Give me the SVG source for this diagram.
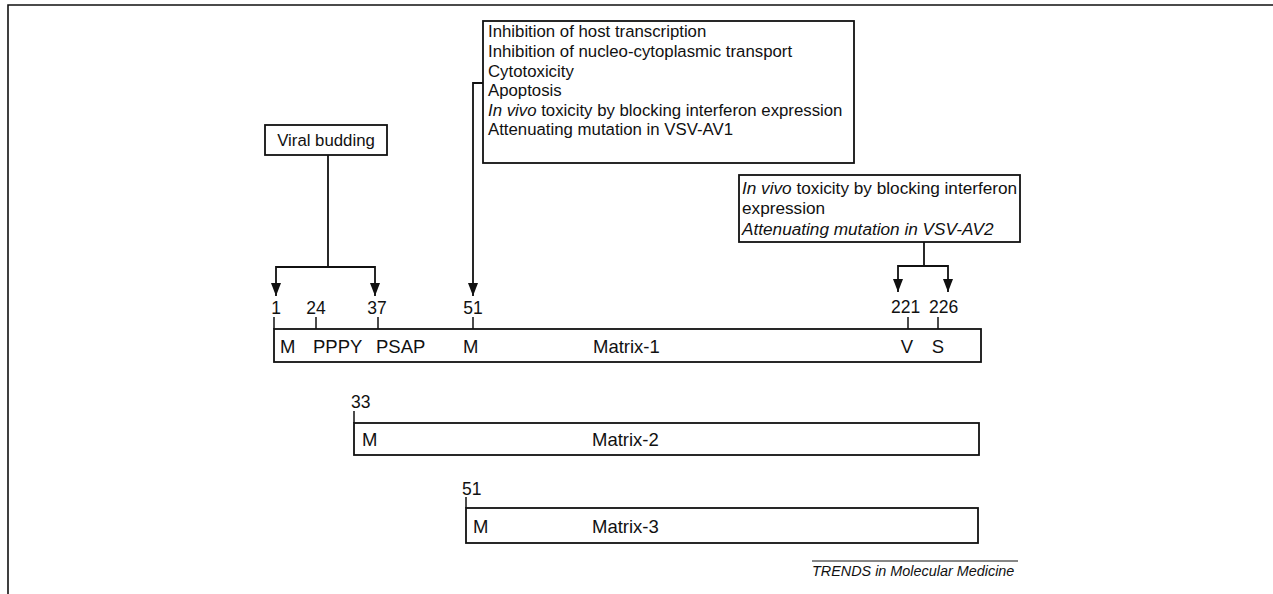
<svg xmlns="http://www.w3.org/2000/svg" width="1273" height="594" viewBox="0 0 1273 594">
  <defs>
    <!-- solid arrowhead drawn along +x so orient="auto" points it down the line -->
    <marker id="arrow" markerUnits="userSpaceOnUse" markerWidth="13" markerHeight="10" viewBox="0 0 13 10" refX="13" refY="5" orient="auto">
      <path d="M0,0 L13,5 L0,10 Z" fill="#111"/>
    </marker>
    <style>
      .frame { stroke: #111; stroke-width: 1.6; fill: none; }
      .box { fill: #fff; stroke: #111; stroke-width: 1.8; }
      .line { stroke: #111; stroke-width: 1.8; fill: none; }
      .tick { stroke: #111; stroke-width: 1.5; }
      text { font-family: "Liberation Sans", Arial, sans-serif; fill: #111; }
      .note { font-size: 16.8px; }
      .note-lg { font-size: 17.2px; }
      .num { font-size: 17.5px; }
      .lbl { font-size: 18.5px; }
      .credit { font-size: 14.4px; font-style: italic; }
      .it { font-style: italic; }
    </style>
  </defs>

  <rect width="1273" height="594" fill="#fff"/>

  <!-- page frame (top and left rules) -->
  <path class="frame" d="M8,594 L8,5 L1273,5"/>

  <!-- connectors -->
  <g id="connectors">
    <path class="line" d="M328,155 L328,267"/>
    <path class="line" d="M328,267 L276,267 L276,296" marker-end="url(#arrow)"/>
    <path class="line" d="M328,267 L375,267 L375,296" marker-end="url(#arrow)"/>
    <path class="line" d="M483,83 L473,83 L473,296" marker-end="url(#arrow)"/>
    <path class="line" d="M924,242 L924,266"/>
    <path class="line" d="M924,266 L898,266 L898,292" marker-end="url(#arrow)"/>
    <path class="line" d="M924,266 L948,266 L948,292" marker-end="url(#arrow)"/>
  </g>

  <!-- annotation boxes -->
  <g id="budding">
    <rect class="box" x="265" y="125" width="122" height="30"/>
    <text class="note" x="326" y="146" text-anchor="middle">Viral budding</text>
  </g>

  <g id="m51-functions">
    <rect class="box" x="483" y="21" width="371" height="142"/>
    <text class="note" x="488" y="37">Inhibition of host transcription</text>
    <text class="note" x="488" y="57">Inhibition of nucleo-cytoplasmic transport</text>
    <text class="note" x="488" y="77">Cytotoxicity</text>
    <text class="note" x="488" y="96">Apoptosis</text>
    <text class="note" x="488" y="116"><tspan class="it">In vivo</tspan> toxicity by blocking interferon expression</text>
    <text class="note" x="488" y="135">Attenuating mutation in VSV-AV1</text>
  </g>

  <g id="av2-functions">
    <rect class="box" x="739" y="175" width="281" height="67"/>
    <text class="note-lg" x="742" y="194"><tspan class="it">In vivo</tspan> toxicity by blocking interferon</text>
    <text class="note-lg" x="742" y="214">expression</text>
    <text class="note-lg it" x="742" y="235">Attenuating mutation in VSV-AV2</text>
  </g>

  <!-- Matrix-1 -->
  <g id="matrix-1">
    <line class="tick" x1="274" y1="317" x2="274" y2="329"/>
    <line class="tick" x1="316" y1="317" x2="316" y2="329"/>
    <line class="tick" x1="378" y1="317" x2="378" y2="329"/>
    <line class="tick" x1="473" y1="317" x2="473" y2="329"/>
    <line class="tick" x1="908" y1="317" x2="908" y2="329"/>
    <line class="tick" x1="938" y1="317" x2="938" y2="329"/>
    <rect class="box" x="274" y="329" width="707" height="33"/>
    <text class="num" x="276" y="314" text-anchor="middle">1</text>
    <text class="num" x="316" y="314" text-anchor="middle">24</text>
    <text class="num" x="377" y="314" text-anchor="middle">37</text>
    <text class="num" x="473" y="314" text-anchor="middle">51</text>
    <text class="num" x="891" y="313">221</text>
    <text class="num" x="929" y="313">226</text>
    <text class="lbl" x="280" y="353">M</text>
    <text class="lbl" x="313" y="353">PPPY</text>
    <text class="lbl" x="376" y="353">PSAP</text>
    <text class="lbl" x="463" y="353">M</text>
    <text class="lbl" x="593" y="353">Matrix-1</text>
    <text class="lbl" x="907" y="353" text-anchor="middle">V</text>
    <text class="lbl" x="938" y="353" text-anchor="middle">S</text>
  </g>

  <!-- Matrix-2 -->
  <g id="matrix-2">
    <line class="tick" x1="354" y1="411" x2="354" y2="423"/>
    <rect class="box" x="354" y="423" width="625" height="32"/>
    <text class="num" x="351" y="408">33</text>
    <text class="lbl" x="362" y="446">M</text>
    <text class="lbl" x="592" y="446">Matrix-2</text>
  </g>

  <!-- Matrix-3 -->
  <g id="matrix-3">
    <line class="tick" x1="466" y1="497" x2="466" y2="508"/>
    <rect class="box" x="466" y="508" width="512" height="35"/>
    <text class="num" x="462" y="495">51</text>
    <text class="lbl" x="473" y="533">M</text>
    <text class="lbl" x="592" y="533">Matrix-3</text>
  </g>

  <!-- journal credit -->
  <g id="credit">
    <line x1="812" y1="561" x2="1018" y2="561" stroke="#111" stroke-width="1.2"/>
    <text class="credit" x="812" y="576">TRENDS in Molecular Medicine</text>
  </g>
</svg>
